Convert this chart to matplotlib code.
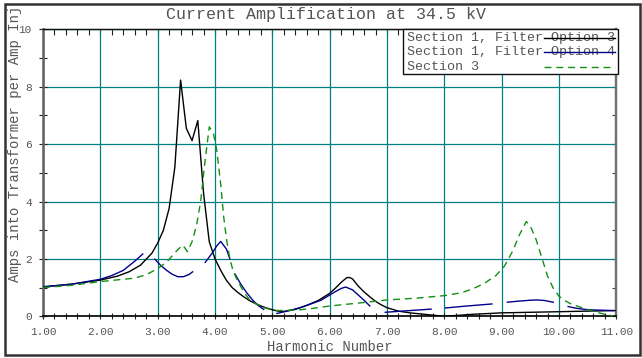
import numpy as np
import matplotlib
matplotlib.use('Agg')
import matplotlib.pyplot as plt
from matplotlib.patches import Rectangle
from matplotlib.ticker import MultipleLocator, FormatStrFormatter

plt.rcParams['font.family'] = ['Liberation Mono', 'DejaVu Sans Mono']

TITLE = "Current Amplification at 34.5 kV"
XLABEL = "Harmonic Number"
YLABEL = "Amps into Transformer per Amp Injected"
LABELS = ["Section 1, Filter Option 3", "Section 1, Filter Option 4", "Section 3"]

# Section 1, Filter Option 3 (black)
h_opt3 = [1.0, 1.5, 2.0, 2.3, 2.5, 2.7, 2.9, 3.0, 3.1, 3.2, 3.3, 3.4, 3.5, 3.6, 3.7,
          3.8, 3.9, 4.0, 4.1, 4.2, 4.3, 4.4, 4.5, 4.6, 4.7, 4.8, 4.9, 5.0, 5.1, 5.2,
          5.4, 5.6, 5.8, 6.0, 6.1, 6.2, 6.3, 6.35, 6.4, 6.5, 6.6, 6.7, 6.8, 6.9, 7.0,
          7.2, 7.4, 7.6, 7.8, 8.0, 8.5, 9.0, 9.5, 10.0, 10.5, 11.0]
v_opt3 = [1.03, 1.12, 1.26, 1.40, 1.55, 1.78, 2.20, 2.55, 3.0, 3.76, 5.2, 8.23, 6.55, 6.12, 6.82,
          4.3, 2.6, 2.0, 1.6, 1.25, 1.0, 0.83, 0.68, 0.55, 0.45, 0.36, 0.29, 0.23, 0.18, 0.17,
          0.24, 0.38, 0.55, 0.80, 0.98, 1.18, 1.35, 1.35, 1.30, 1.05, 0.85, 0.68, 0.52, 0.40, 0.30,
          0.18, 0.12, 0.08, 0.04, 0.0, 0.07, 0.12, 0.14, 0.16, 0.18, 0.20]

# Section 1, Filter Option 4 (blue) - broken into segments, nan = gap
nan = np.nan
h_opt4 = [1.0, 1.5, 2.0, 2.2, 2.4, 2.6, 2.74, nan,
          2.95, 3.05, 3.15, 3.25, 3.35, 3.45, 3.55, 3.61, nan,
          3.83, 3.95, 4.03, 4.10, 4.20, 4.26, nan,
          4.35, 4.45, 4.55, 4.65, 4.75, 4.85, nan,
          5.08, 5.3, 5.5, 5.7, 5.85, 6.0, 6.1, 6.2, 6.28, 6.4, 6.5, 6.6, 6.7, nan,
          6.97, 7.4, 7.77, nan,
          8.02, 8.4, 8.83, nan,
          9.10, 9.3, 9.5, 9.62, 9.75, 9.90, nan,
          10.16, 10.3, 10.45, 10.6, 10.8, 10.95]
v_opt4 = [1.02, 1.12, 1.29, 1.42, 1.60, 1.92, 2.17, nan,
          1.99, 1.78, 1.61, 1.47, 1.38, 1.38, 1.46, 1.55, nan,
          1.88, 2.2, 2.45, 2.61, 2.34, 2.0, nan,
          1.47, 1.12, 0.83, 0.58, 0.38, 0.24, nan,
          0.10, 0.2, 0.31, 0.45, 0.56, 0.74, 0.86, 0.97, 1.02, 0.92, 0.74, 0.56, 0.36, nan,
          0.14, 0.20, 0.25, nan,
          0.29, 0.36, 0.43, nan,
          0.49, 0.53, 0.56, 0.57, 0.55, 0.49, nan,
          0.34, 0.28, 0.24, 0.22, 0.21, 0.20]

# Section 3 (green dashed)
h_sec3 = [1.0, 1.5, 2.0, 2.3, 2.6, 2.8, 3.0, 3.15, 3.27, 3.35, 3.44, 3.52, 3.6, 3.68, 3.75,
          3.82, 3.90, 3.97, 4.03, 4.1, 4.15, 4.2, 4.26, 4.32, 4.38, 4.5, 4.6, 4.7, 4.84, 5.0,
          5.1, 5.3, 5.5, 5.8, 6.0, 6.5, 7.0, 7.5, 8.0, 8.3, 8.5, 8.7, 8.9, 9.05, 9.2,
          9.3, 9.43, 9.5, 9.6, 9.7, 9.8, 9.9, 10.0, 10.1, 10.2, 10.4, 10.6, 10.8, 10.95]
v_sec3 = [1.0, 1.08, 1.21, 1.27, 1.33, 1.45, 1.66, 1.88, 2.14, 2.32, 2.48, 2.25, 2.6, 3.18, 4.0,
          5.3, 6.60, 6.4, 5.8, 4.6, 3.5, 2.7, 2.0, 1.55, 1.30, 0.85, 0.58, 0.45, 0.31, 0.22,
          0.20, 0.21, 0.23, 0.30, 0.36, 0.46, 0.57, 0.63, 0.72, 0.82, 0.96, 1.15, 1.42, 1.75, 2.30,
          2.8, 3.30, 3.15, 2.68, 2.05, 1.40, 0.98, 0.70, 0.55, 0.44, 0.30, 0.17, 0.07, 0.01]

C_BLACK, C_BLUE, C_GREEN = '#000000', '#00008b', '#139013'
C_GRID, C_TEXT = '#008080', '#555555'
W, H = 642, 358

fig = plt.figure(figsize=(W / 100, H / 100), dpi=100)
ax = fig.add_axes([43 / W, 1 - 316.3 / H, 573.3 / W, 287 / H])

ax.plot(h_opt3, v_opt3, color=C_BLACK, lw=1.0, zorder=3)
ax.plot(h_opt4, v_opt4, color=C_BLUE, lw=1.0, zorder=3)
ax.plot(h_sec3, v_sec3, color=C_GREEN, lw=1.0, dashes=(5, 3.5), zorder=3)

ax.set_xlim(1, 11)
ax.set_ylim(0, 10)
ax.xaxis.set_major_locator(MultipleLocator(1))
ax.xaxis.set_minor_locator(MultipleLocator(0.2))
ax.xaxis.set_major_formatter(FormatStrFormatter('%.2f'))
ax.yaxis.set_major_locator(MultipleLocator(2))
ax.yaxis.set_minor_locator(MultipleLocator(1))
ax.grid(True, which='major', color=C_GRID, lw=0.9, zorder=1)
ax.tick_params(which='both', direction='inout', length=5, width=0.8, color='#222222',
               labelsize=8, labelcolor=C_TEXT, pad=5)
ax.tick_params(axis='y', which='both', length=6)

ax.spines['left'].set_color('#606060')
ax.spines['left'].set_linewidth(1.8)
ax.spines['right'].set_color('#707070')
ax.spines['right'].set_linewidth(1.6)
ax.spines['bottom'].set_color('#111111')
ax.spines['bottom'].set_linewidth(1.3)
ax.spines['top'].set_color('#111111')
ax.spines['top'].set_linewidth(1.0)

# top / right inward ticks
top = ax.secondary_xaxis('top')
top.xaxis.set_major_locator(MultipleLocator(1))
top.xaxis.set_minor_locator(MultipleLocator(0.2))
top.tick_params(which='both', direction='in', length=4, width=0.8, labeltop=False, color='#222222')
top.spines['top'].set_color('#111111')
right = ax.secondary_yaxis('right')
right.yaxis.set_major_locator(MultipleLocator(2))
right.yaxis.set_minor_locator(MultipleLocator(1))
right.tick_params(which='both', direction='in', length=3, width=0.8, labelright=False, color='#444444')
right.spines['right'].set_color('#707070')
right.spines['right'].set_linewidth(1.6)

# legend box (lines drawn over the label text, as in the original)
ax.add_patch(Rectangle((0.628, 0.844), 0.375, 0.156, transform=ax.transAxes,
                       facecolor='white', edgecolor='#111111', lw=1.0, zorder=5, clip_on=False))
rows_y = [0.971, 0.920, 0.870]
styles = [dict(color=C_BLACK), dict(color=C_BLUE), dict(color=C_GREEN, dashes=(5, 3.5))]
for lbl, yy, st in zip(LABELS, rows_y, styles):
    ax.text(0.635, yy, lbl, transform=ax.transAxes, fontsize=9.6, color=C_TEXT,
            ha='left', va='center', zorder=6)
    ax.plot([0.874, 0.9986], [yy, yy], transform=ax.transAxes, lw=1.0, zorder=7,
            clip_on=False, **st)

# outer frame
frame = Rectangle((5 / W, 1 - 355 / H), 635 / W, 351 / H, transform=fig.transFigure,
                  facecolor='none', edgecolor='#333333', lw=1.8)
fig.patches.append(frame)

fig.text(326 / W, 1 - 15 / H, TITLE, ha='center', va='center', fontsize=12, color=C_TEXT)
fig.text(329.5 / W, 1 - 347 / H, XLABEL, ha='center', va='center', fontsize=10, color=C_TEXT)
yl = fig.text(15 / W, 1 - 282 / H, YLABEL, rotation=90, rotation_mode='anchor',
              ha='left', va='center', fontsize=10, color=C_TEXT)
clip = Rectangle((5 / W, 1 - 355 / H), 635 / W, 349 / H, transform=fig.transFigure,
                 facecolor='none', edgecolor='none')
yl.set_clip_path(clip)

fig.savefig('out.png', dpi=100)
